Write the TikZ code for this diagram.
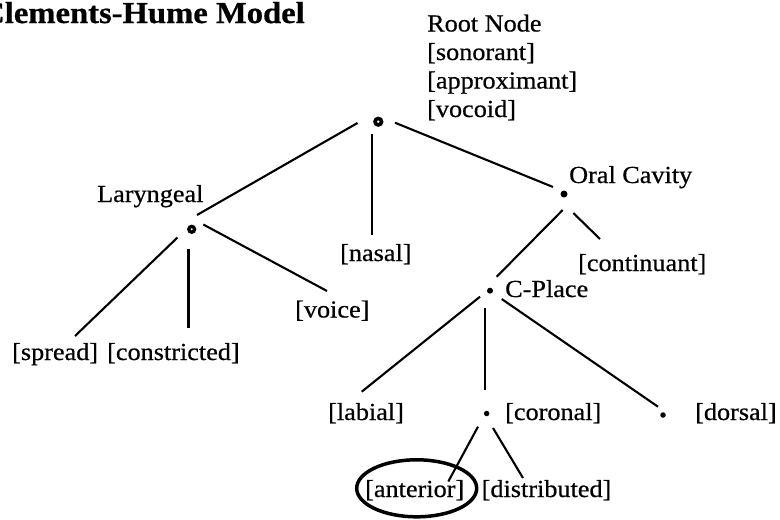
\documentclass[tikz,border=0pt]{standalone}
\usepackage{fontspec}
\setmainfont{Liberation Serif}[FakeStretch=1.07, FakeBold=0.6]
\usetikzlibrary{shapes.geometric}
\begin{document}
\begin{tikzpicture}[x=1pt,y=-1pt,
  feat/.style={inner sep=0pt, anchor=base west, font=\fontsize{24.5}{28.5}\selectfont},
  ringnode/.style={circle, draw, line width=3.6pt, minimum size=6.5pt, inner sep=0pt},
  dotnode/.style={circle, fill, minimum size=5.5pt, inner sep=0pt},
  branch/.style={line width=2.1pt},
  loop/.style={draw, ellipse, line width=3.5pt, minimum width=120pt, minimum height=57pt, inner sep=0pt}]
\useasboundingbox (0,0) rectangle (780,520);

% title
\node[inner sep=0pt, anchor=base east, font=\fontsize{30.5}{36}\bfseries\selectfont] (title) at (305,23) {Clements-Hume Model};

% dots
\node[ringnode] (root) at (378.3,121.7) {};
\node[ringnode, minimum size=5.8pt, line width=3.3pt] (lar) at (191.7,229.3) {};
\node[dotnode, minimum size=7pt] (oral) at (564,194) {};
\node[dotnode, minimum size=6pt] (cpl) at (490,290.7) {};
\node[dotnode, minimum size=5.5pt] (cor) at (486.7,413.5) {};
\node[dotnode, minimum size=5.5pt] (dor) at (663,415) {};

% labels
\node[feat, align=left] (rootlbl) at (427,117) {Root Node\\{[sonorant]}\\{[approximant]}\\{[vocoid]}};
\node[feat] (larlbl) at (97,202) {Laryngeal};
\node[feat] (orallbl) at (569,183) {Oral Cavity};
\node[feat] (cpllbl) at (505,297) {C-Place};
\node[feat] (nasal) at (340,261) {[nasal]};
\node[feat] (cont) at (578,271) {[continuant]};
\node[feat] (spread) at (12,360) {[spread]};
\node[feat] (constr) at (107,360) {[constricted]};
\node[feat] (voice) at (295,317.5) {[voice]};
\node[feat] (labial) at (328,420) {[labial]};
\node[feat] (coronal) at (505,420) {[coronal]};
\node[feat] (dorsal) at (695,420) {[dorsal]};
\node[feat] (anterior) at (365,497) {[anterior]};
\node[feat] (distr) at (481.5,497) {[distributed]};
\node[loop] (ring) at (416.7,488.3) {};

% connector ends
\coordinate (root-l) at (357.5,123);   \coordinate (lar-u) at (197,215);
\coordinate (root-d) at (372,134);     \coordinate (nasal-u) at (372,235);
\coordinate (root-r) at (395,122.7);   \coordinate (oral-u) at (553,187);
\coordinate (lar-sl) at (177.5,237.5); \coordinate (spread-u) at (75,336);
\coordinate (lar-d) at (188.5,249);    \coordinate (constr-u) at (188.5,328);
\coordinate (lar-sr) at (203.3,224.5); \coordinate (voice-u) at (327,291);
\coordinate (oral-dl) at (562.7,210);  \coordinate (cpl-u) at (496.7,276.7);
\coordinate (oral-dr) at (573.3,213);  \coordinate (cont-u) at (600,239);
\coordinate (cpl-dl) at (480,296.7);   \coordinate (labial-u) at (361.7,391.7);
\coordinate (cpl-d) at (485,308);      \coordinate (cor-u) at (485,390);
\coordinate (cpl-dr) at (501.7,299);   \coordinate (dor-u) at (658,406.7);
\coordinate (cor-dl) at (478,426.7);   \coordinate (ant-u) at (448.3,481.5);
\coordinate (cor-dr) at (493,428);     \coordinate (distr-u) at (523,478);

% connectors
\draw[branch] (root-l) -- (lar-u);
\draw[branch] (root-d) -- (nasal-u);
\draw[branch] (root-r) -- (oral-u);
\draw[branch] (lar-sl) -- (spread-u);
\draw[branch] (lar-d) -- (constr-u);
\draw[branch] (lar-sr) -- (voice-u);
\draw[branch] (oral-dl) -- (cpl-u);
\draw[branch] (oral-dr) -- (cont-u);
\draw[branch] (cpl-dl) -- (labial-u);
\draw[branch] (cpl-d) -- (cor-u);
\draw[branch] (cpl-dr) -- (dor-u);
\draw[branch] (cor-dl) -- (ant-u);
\draw[branch] (cor-dr) -- (distr-u);
\end{tikzpicture}
\end{document}
